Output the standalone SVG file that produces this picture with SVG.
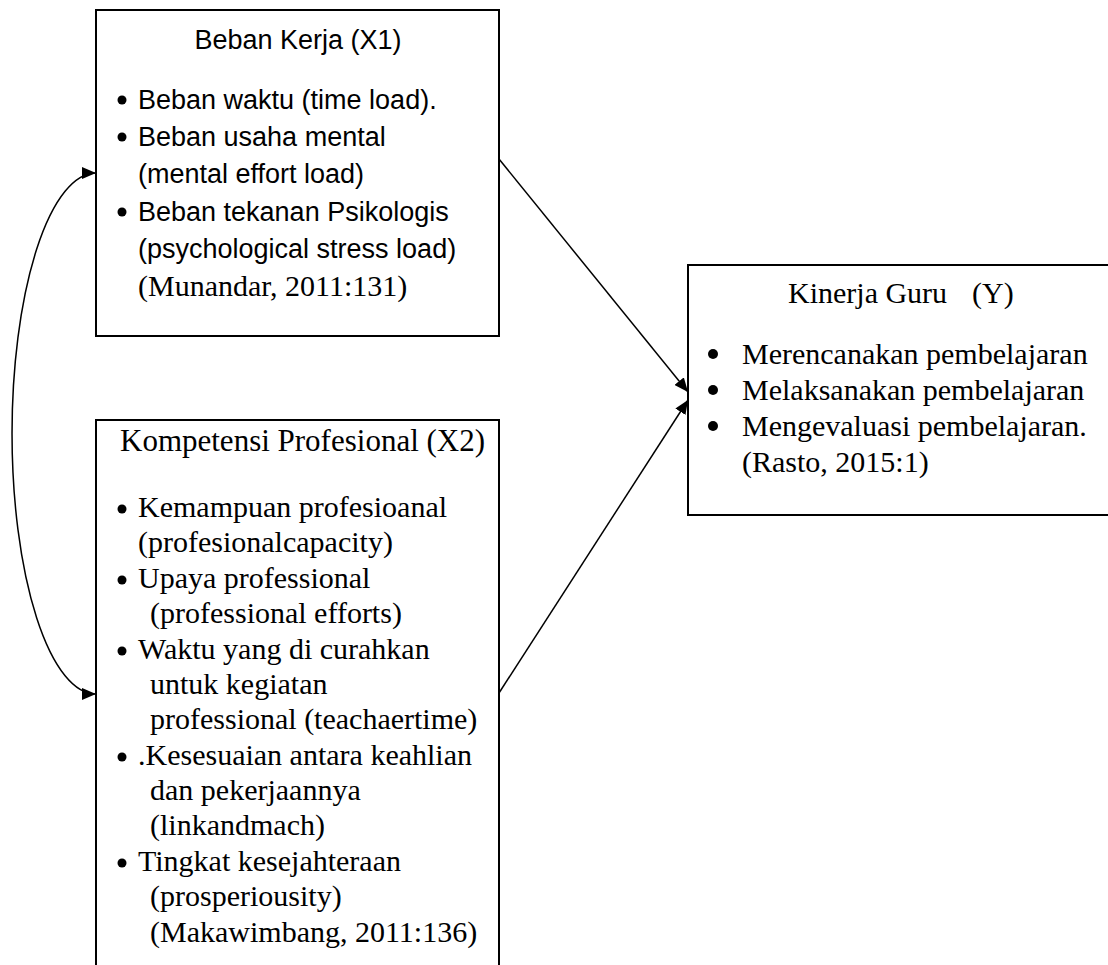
<svg xmlns="http://www.w3.org/2000/svg" width="1108" height="965" viewBox="0 0 1108 965">
<style>
.box{fill:#fff;stroke:#000;stroke-width:2}
.serif{font-family:"Liberation Serif","Times New Roman",serif;font-size:30px;fill:#000}
.title{font-size:31px}
.sans{font-family:"Liberation Sans",Arial,sans-serif;font-size:27px;fill:#000}
.dot{fill:#000}
.conn{fill:none;stroke:#000;stroke-width:1.5}
</style>
<defs>
<marker id="ah" markerUnits="userSpaceOnUse" markerWidth="15" markerHeight="12" refX="14" refY="6" orient="auto-start-reverse">
<path d="M0,0 L14,6 L0,12 z" fill="#000"/>
</marker>
</defs>
<rect width="1108" height="965" fill="#fff"/>
<g id="connectors">
<path class="conn" d="M499,159 L688,392" marker-end="url(#ah)"/>
<path class="conn" d="M499,693 L688,400" marker-end="url(#ah)"/>
<path class="conn" d="M96,173 A84 260.5 0 0 0 96,694" marker-start="url(#ah)" marker-end="url(#ah)"/>
</g>
<g id="beban-kerja">
<rect class="box" x="96" y="10" width="403" height="326"/>
<text class="sans" x="298" y="49" text-anchor="middle">Beban Kerja (X1)</text>
<circle class="dot" cx="122" cy="100" r="4.5"/>
<text class="sans" x="138" y="109">Beban waktu (time load).</text>
<circle class="dot" cx="122" cy="137" r="4.5"/>
<text class="sans" x="138" y="146">Beban usaha mental</text>
<text class="sans" x="138" y="183">(mental effort load)</text>
<circle class="dot" cx="122" cy="212" r="4.5"/>
<text class="sans" x="138" y="221">Beban tekanan Psikologis</text>
<text class="sans" x="138" y="258">(psychological stress load)</text>
<text class="serif" x="138" y="296">(Munandar, 2011:131)</text>
</g>
<g id="kompetensi-profesional">
<rect class="box" x="96" y="420" width="403" height="600"/>
<text class="serif title" x="120" y="451">Kompetensi Profesional (X2)</text>
<circle class="dot" cx="122" cy="509" r="4.5"/>
<text class="serif" x="138" y="517">Kemampuan profesioanal</text>
<text class="serif" x="138" y="552">(profesionalcapacity)</text>
<circle class="dot" cx="122" cy="580" r="4.5"/>
<text class="serif" x="138" y="588">Upaya professional</text>
<text class="serif" x="150" y="623">(professional efforts)</text>
<circle class="dot" cx="122" cy="651" r="4.5"/>
<text class="serif" x="138" y="659">Waktu yang di curahkan</text>
<text class="serif" x="150" y="694">untuk kegiatan</text>
<text class="serif" x="150" y="729">professional (teachaertime)</text>
<circle class="dot" cx="122" cy="757" r="4.5"/>
<text class="serif" x="138" y="765">.Kesesuaian antara keahlian</text>
<text class="serif" x="150" y="800">dan pekerjaannya</text>
<text class="serif" x="150" y="835">(linkandmach)</text>
<circle class="dot" cx="122" cy="863" r="4.5"/>
<text class="serif" x="138" y="871">Tingkat kesejahteraan</text>
<text class="serif" x="150" y="906">(prosperiousity)</text>
<text class="serif" x="150" y="942">(Makawimbang, 2011:136)</text>
</g>
<g id="kinerja-guru">
<rect class="box" x="688" y="265" width="500" height="250"/>
<text class="serif" x="788" y="303">Kinerja Guru</text>
<text class="serif" x="972" y="303">(Y)</text>
<circle class="dot" cx="713" cy="354" r="5"/>
<text class="serif" x="742" y="364">Merencanakan pembelajaran</text>
<circle class="dot" cx="713" cy="390" r="5"/>
<text class="serif" x="742" y="400">Melaksanakan pembelajaran</text>
<circle class="dot" cx="713" cy="426" r="5"/>
<text class="serif" x="742" y="436">Mengevaluasi pembelajaran.</text>
<text class="serif" x="742" y="472">(Rasto, 2015:1)</text>
</g>
</svg>
